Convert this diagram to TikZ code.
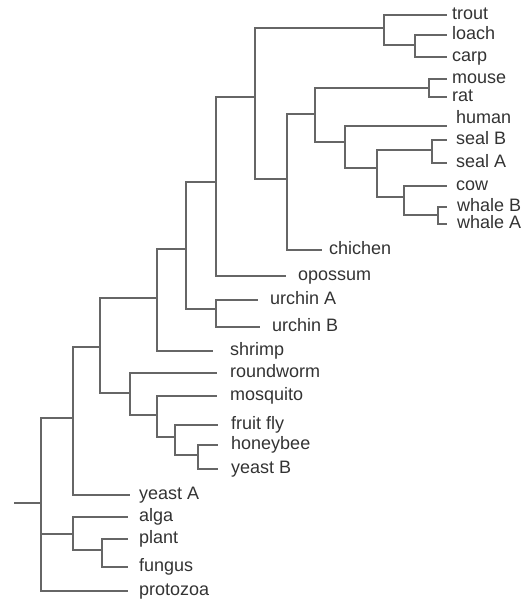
\documentclass[tikz,border=0pt]{standalone}
\usepackage{fontspec}
\setmainfont{Liberation Sans}
\usetikzlibrary{calc, positioning}

\begin{document}
\begin{tikzpicture}[
        x=1pt, y=-1pt,
        leaf/.style={anchor=west, inner xsep=7pt, inner ysep=0pt, text height=12pt, text depth=3pt, text=black!80, font=\fontsize{18}{20}\selectfont},
        branch/.style={draw=black!60, line width=1.1pt}
    ]
        \useasboundingbox (0,0) rectangle (530,602);

        \coordinate (stub) at (14,503);
        \coordinate (root) at (41,503);
        \coordinate (euk) at (73,418);
        \coordinate (bilat) at (100,347);
        \coordinate (deut) at (157,298);
        \coordinate (echi) at (186,249);
        \coordinate (amni) at (216,182);
        \coordinate (gnath) at (255,97);
        \coordinate (fish) at (384,28);
        \coordinate (cypr) at (415,45);
        \coordinate (birdmam) at (287,179);
        \coordinate (mamm) at (315,114);
        \coordinate (rodent) at (429,88);
        \coordinate (prim) at (345,142);
        \coordinate (laura) at (377,168);
        \coordinate (seals) at (432,150);
        \coordinate (ungul) at (404,197);
        \coordinate (whales) at (438,215);
        \coordinate (urchins) at (216,309);
        \coordinate (ecdy) at (130,393);
        \coordinate (insect) at (157,415);
        \coordinate (fly) at (175,437);
        \coordinate (bee) at (198,455);
        \coordinate (plants) at (73,534);
        \coordinate (plfu) at (102,550);

        \node[leaf, inner xsep=5pt] (trout) at (447,15) {trout};
        \node[leaf, inner xsep=5pt] (loach) at (447,35) {loach};
        \node[leaf, inner xsep=5pt] (carp) at (447,57) {carp};
        \node[leaf, inner xsep=5pt] (mouse) at (447,79) {mouse};
        \node[leaf, inner xsep=5pt] (rat) at (447,97) {rat};
        \node[leaf, inner xsep=9pt, yshift=7pt] (human) at (447,126) {human};
        \node[leaf, inner xsep=9pt] (sealB) at (447,140) {seal B};
        \node[leaf, inner xsep=9pt] (sealA) at (447,163) {seal A};
        \node[leaf, inner xsep=9pt] (cow) at (447,186) {cow};
        \node[leaf, inner xsep=10pt] (whaleB) at (447,207) {whale B};
        \node[leaf, inner xsep=10pt] (whaleA) at (447,224) {whale A};
        \node[leaf] (chichen) at (322,250) {chichen};
        \node[leaf, inner xsep=12pt] (opossum) at (286,276) {opossum};
        \node[leaf, inner xsep=12pt] (urchinA) at (258,300) {urchin A};
        \node[leaf, inner xsep=12pt] (urchinB) at (260,327) {urchin B};
        \node[leaf, inner xsep=17pt] (shrimp) at (213,351) {shrimp};
        \node[leaf, inner xsep=13pt] (roundworm) at (217,373) {roundworm};
        \node[leaf, inner xsep=13pt] (mosquito) at (217,396) {mosquito};
        \node[leaf, inner xsep=13pt] (fruitfly) at (218,425) {fruit fly};
        \node[leaf, inner xsep=13pt] (honeybee) at (218,445) {honeybee};
        \node[leaf, inner xsep=13pt] (yeastB) at (218,469) {yeast B};
        \node[leaf, inner xsep=9pt] (yeastA) at (130,495) {yeast A};
        \node[leaf, inner xsep=11pt] (alga) at (128,517) {alga};
        \node[leaf, inner xsep=11pt] (plant) at (128,539) {plant};
        \node[leaf, inner xsep=11pt] (fungus) at (128,567) {fungus};
        \node[leaf, inner xsep=11pt] (protozoa) at (128,591) {protozoa};

        \draw[branch] (stub) -- (root);
        \draw[branch] (root) |- (euk) (root) |- (plants) (root) |- (protozoa);
        \draw[branch] (euk) |- (bilat) (euk) |- (yeastA);
        \draw[branch] (bilat) |- (deut) (bilat) |- (ecdy);
        \draw[branch] (deut) |- (echi) (deut) |- (shrimp);
        \draw[branch] (echi) |- (amni) (echi) |- (urchins);
        \draw[branch] (amni) |- (gnath) (amni) |- (opossum);
        \draw[branch] (gnath) |- (fish) (gnath) |- (birdmam);
        \draw[branch] (fish) |- (trout) (fish) |- (cypr);
        \draw[branch] (cypr) |- (loach) (cypr) |- (carp);
        \draw[branch] (birdmam) |- (mamm) (birdmam) |- (chichen);
        \draw[branch] (mamm) |- (rodent) (mamm) |- (prim);
        \draw[branch] (rodent) |- (mouse) (rodent) |- (rat);
        \draw[branch] (prim) |- ($(human.west)+(0,7)$) (prim) |- (laura);
        \draw[branch] (laura) |- (seals) (laura) |- (ungul);
        \draw[branch] (seals) |- (sealB) (seals) |- (sealA);
        \draw[branch] (ungul) |- (cow) (ungul) |- (whales);
        \draw[branch] (whales) |- (whaleB) (whales) |- (whaleA);
        \draw[branch] (urchins) |- (urchinA) (urchins) |- (urchinB);
        \draw[branch] (ecdy) |- (roundworm) (ecdy) |- (insect);
        \draw[branch] (insect) |- (mosquito) (insect) |- (fly);
        \draw[branch] (fly) |- (fruitfly) (fly) |- (bee);
        \draw[branch] (bee) |- (honeybee) (bee) |- (yeastB);
        \draw[branch] (plants) |- (alga) (plants) |- (plfu);
        \draw[branch] (plfu) |- (plant) (plfu) |- (fungus);
    \end{tikzpicture}
\end{document}
